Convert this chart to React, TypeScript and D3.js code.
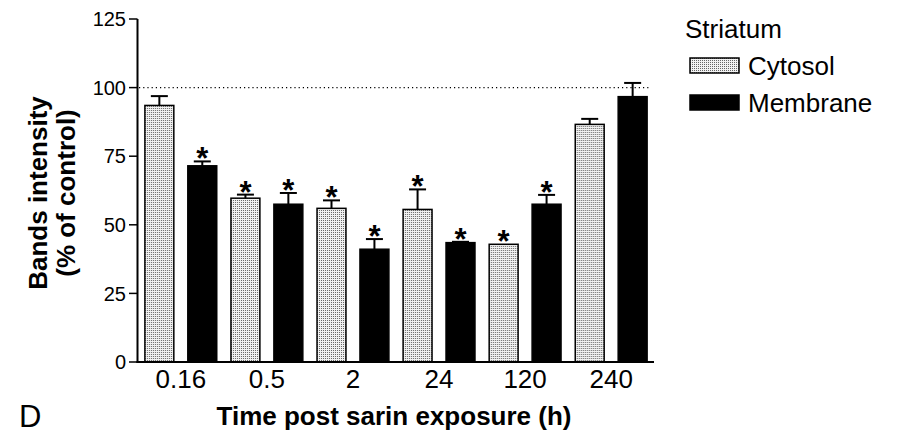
import * as d3 from "d3";
import { useEffect, useRef } from "react";

const times = ["0.16", "0.5", "2", "24", "120", "240"];
const seriesNames = ["Cytosol", "Membrane"];
const cytosolMeans = [93.5, 59.7, 56.0, 55.6, 42.9, 86.6];
const cytosolErrors = [3.4, 1.3, 2.9, 7.3, 0, 2.0];
const cytosolSig = [false, true, true, true, true, false];
const membraneMeans = [71.5, 57.5, 41.1, 43.5, 57.5, 96.7];
const membraneErrors = [1.6, 4.1, 3.7, 0.3, 3.4, 5.0];
const membraneSig = [true, true, true, true, true, false];
const yTicks = [0, 25, 50, 75, 100, 125];

const width = 899;
const height = 438;
const font = "'Liberation Sans', Arial, Helvetica, sans-serif";

export default function App() {
  const svgRef = useRef<SVGSVGElement | null>(null);

  useEffect(() => {
    document.body.style.margin = "0";
    const svg = d3.select(svgRef.current);
    svg.selectAll("*").remove();

    const defs = svg.append("defs");
    const pat = defs
      .append("pattern")
      .attr("id", "stipple")
      .attr("width", 2)
      .attr("height", 2)
      .attr("patternUnits", "userSpaceOnUse");
    pat.append("rect").attr("width", 2).attr("height", 2).attr("fill", "#f2f2f2");
    pat.append("rect").attr("width", 1).attr("height", 1).attr("fill", "#666");

    const rows = times.map((t, i) => ({
      time: t,
      values: [
        { key: "Cytosol", mean: cytosolMeans[i], err: cytosolErrors[i], sig: cytosolSig[i] },
        { key: "Membrane", mean: membraneMeans[i], err: membraneErrors[i], sig: membraneSig[i] },
      ],
    }));

    const x0 = d3
      .scaleBand()
      .domain(times)
      .range([138, 654])
      .paddingInner(0.165)
      .paddingOuter(0.08);
    const x1 = d3
      .scaleBand()
      .domain(seriesNames)
      .range([0, x0.bandwidth()])
      .paddingInner(0.326);
    const y = d3.scaleLinear().domain([0, 125]).range([362, 19]);

    const fillFor = (k: string) => (k === "Cytosol" ? "url(#stipple)" : "#000");

    // dotted line at 100% of control
    svg
      .append("line")
      .attr("x1", 139)
      .attr("x2", 650)
      .attr("y1", y(100))
      .attr("y2", y(100))
      .attr("stroke", "#000")
      .attr("stroke-width", 1.2)
      .attr("stroke-dasharray", "1.2,3");

    const groups = svg
      .append("g")
      .selectAll("g")
      .data(rows)
      .join("g")
      .attr("transform", (d) => `translate(${x0(d.time)},0)`);

    const bars = groups
      .selectAll("g")
      .data((d) => d.values)
      .join("g");

    bars
      .filter((d) => d.err > 0.5)
      .append("line")
      .attr("x1", (d) => x1(d.key)! + x1.bandwidth() / 2)
      .attr("x2", (d) => x1(d.key)! + x1.bandwidth() / 2)
      .attr("y1", (d) => y(d.mean))
      .attr("y2", (d) => y(d.mean + d.err))
      .attr("stroke", "#000")
      .attr("stroke-width", 2);

    bars
      .filter((d) => d.err > 0)
      .append("line")
      .attr("x1", (d) => x1(d.key)! + x1.bandwidth() / 2 - 8.5)
      .attr("x2", (d) => x1(d.key)! + x1.bandwidth() / 2 + 8.5)
      .attr("y1", (d) => y(d.mean + d.err))
      .attr("y2", (d) => y(d.mean + d.err))
      .attr("stroke", "#000")
      .attr("stroke-width", 2);

    bars
      .append("rect")
      .attr("x", (d) => x1(d.key)!)
      .attr("y", (d) => y(d.mean))
      .attr("width", x1.bandwidth())
      .attr("height", (d) => y(0) - y(d.mean))
      .attr("fill", (d) => fillFor(d.key))
      .attr("stroke", "#000")
      .attr("stroke-width", 1.5);

    bars
      .filter((d) => d.sig)
      .append("text")
      .attr("x", (d) => x1(d.key)! + x1.bandwidth() / 2)
      .attr("y", (d) => y(d.mean + d.err) + 8)
      .attr("text-anchor", "middle")
      .style("font-family", font)
      .style("font-weight", "700")
      .style("font-size", "31px")
      .text("*");

    // axes
    const yAxis = svg.append("g");
    yAxis
      .append("line")
      .attr("x1", 137.5)
      .attr("x2", 137.5)
      .attr("y1", y(125))
      .attr("y2", y(0) + 1)
      .attr("stroke", "#000")
      .attr("stroke-width", 2);
    yAxis
      .selectAll(".tick")
      .data(yTicks)
      .join("line")
      .attr("x1", 129)
      .attr("x2", 137.5)
      .attr("y1", (d) => y(d))
      .attr("y2", (d) => y(d))
      .attr("stroke", "#000")
      .attr("stroke-width", 1.5);
    yAxis
      .selectAll("text")
      .data(yTicks)
      .join("text")
      .attr("x", 126)
      .attr("y", (d) => y(d))
      .attr("dy", "0.36em")
      .attr("text-anchor", "end")
      .style("font-family", font)
      .style("font-size", "20px")
      .text((d) => d);

    svg
      .append("line")
      .attr("x1", 136.5)
      .attr("x2", 654)
      .attr("y1", y(0))
      .attr("y2", y(0))
      .attr("stroke", "#000")
      .attr("stroke-width", 2);

    svg
      .append("g")
      .selectAll("text")
      .data(times)
      .join("text")
      .attr("x", (d) => x0(d)! + x0.bandwidth() / 2)
      .attr("y", 388)
      .attr("text-anchor", "middle")
      .style("font-family", font)
      .style("font-size", "26px")
      .text((d) => d);

    svg
      .append("text")
      .attr("x", 394)
      .attr("y", 425)
      .attr("text-anchor", "middle")
      .style("font-family", font)
      .style("font-weight", "700")
      .style("font-size", "26px")
      .text("Time post sarin exposure (h)");

    svg
      .append("text")
      .attr("x", 19)
      .attr("y", 427)
      .style("font-family", font)
      .style("font-size", "31px")
      .text("D");

    const yTitle = svg
      .append("text")
      .attr("transform", "translate(0,193) rotate(-90)")
      .attr("text-anchor", "middle")
      .style("font-family", font)
      .style("font-weight", "700")
      .style("font-size", "26px");
    yTitle.append("tspan").attr("x", 0).attr("y", 47).text("Bands intensity");
    yTitle.append("tspan").attr("x", 0).attr("y", 75).text("(% of control)");

    // legend
    const legend = svg.append("g");
    legend
      .append("text")
      .attr("x", 685)
      .attr("y", 38)
      .style("font-family", font)
      .style("font-size", "26px")
      .text("Striatum");
    const items = legend
      .selectAll("g")
      .data(seriesNames)
      .join("g")
      .attr("transform", (_d, i) => `translate(0,${i * 37})`);
    items
      .append("rect")
      .attr("x", 690)
      .attr("y", 58)
      .attr("width", 49)
      .attr("height", 15)
      .attr("fill", (d) => fillFor(d))
      .attr("stroke", "#000")
      .attr("stroke-width", 1.5);
    items
      .append("text")
      .attr("x", 748)
      .attr("y", 75)
      .style("font-family", font)
      .style("font-size", "26px")
      .text((d) => d);
  }, []);

  return <svg ref={svgRef} width={width} height={height} style={{ display: "block", background: "#fff" }} />;
}
